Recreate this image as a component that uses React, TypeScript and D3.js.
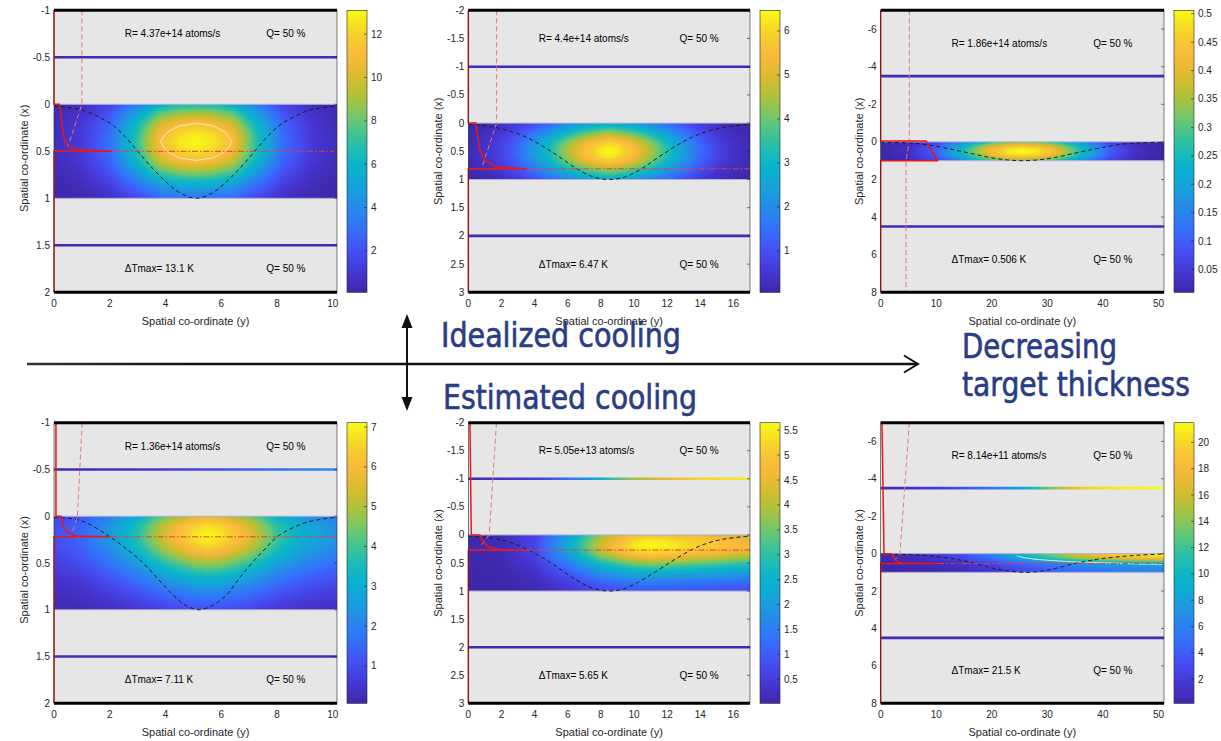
import React, { useMemo } from 'react';
import * as d3 from 'd3';

const W = 1221;
const H = 741;
const FONT = "'Liberation Sans', Arial, Helvetica, sans-serif";
const INK = '#262626';

// parula-style colour ramp (normalised position -> colour)
const parulaPos = [0, 0.077, 0.153, 0.229, 0.305, 0.38, 0.458, 0.534, 0.61, 0.687, 0.763, 0.84, 0.916, 1];
const parulaCol = [
  'rgb(62,38,168)', 'rgb(70,56,215)', 'rgb(68,82,245)', 'rgb(50,115,252)', 'rgb(38,140,232)',
  'rgb(20,165,218)', 'rgb(10,182,200)', 'rgb(45,192,165)', 'rgb(105,200,115)', 'rgb(170,195,60)',
  'rgb(218,186,48)', 'rgb(252,185,60)', 'rgb(245,208,45)', 'rgb(249,251,20)',
];
const parula = d3.scaleLinear<string>().domain(parulaPos).range(parulaCol).interpolate(d3.interpolateRgb).clamp(true);

// page grid of the six panels
const colLeft = [54, 468.3, 880.7];
const colRight = [337, 750, 1164];
const rowTop = [10.3, 422.7];
const rowBottom = [292.3, 703.3];

// shared tick lists
const thickDepthTicks = [-1, -0.5, 0, 0.5, 1, 1.5, 2];
const midDepthTicks = [-2, -1.5, -1, -0.5, 0, 0.5, 1, 1.5, 2, 2.5, 3];
const thinDepthTicks = [-6, -4, -2, 0, 2, 4, 6, 8];
const thickLatTicks = [0, 2, 4, 6, 8, 10];
const midLatTicks = [0, 2, 4, 6, 8, 10, 12, 14, 16];
const thinLatTicks = [0, 10, 20, 30, 40, 50];
const depthSteps = [0, 0.1, 0.2, 0.3, 0.4, 0.5, 0.6, 0.7, 0.8, 0.9, 1];

// ---- (a) idealized cooling, thick target ----
const aHeatLat = [0, 1, 2, 3, 3.8, 4.5, 5.1, 5.7, 6.4, 7.2, 8.2, 9.2, 10.15];
const aHeatLatVals = [0.04, 0.09, 0.23, 0.55, 0.86, 0.97, 1, 0.97, 0.86, 0.55, 0.23, 0.09, 0.04];
const aHeatDepthVals = [0.5, 0.7, 0.86, 0.96, 1, 0.96, 0.86, 0.7, 0.52, 0.36, 0.24];
const aBragg = [[-1, 0], [0, 0], [0, 0.2], [0.07, 0.24], [0.22, 0.29], [0.36, 0.36], [0.45, 0.51], [0.48, 0.81], [0.49, 1.29], [0.5, 2.07], [0.5, 0], [2, 0]];
const aRange = [[-1, 1], [0, 1], [0.45, 0.5]];
const aBeam = [[0, 0.02], [1, 0.06], [2, 0.2], [2.5, 0.33], [3, 0.5], [3.5, 0.67], [4, 0.82], [4.5, 0.94], [5.1, 1], [5.7, 0.94], [6.2, 0.82], [6.7, 0.67], [7.2, 0.5], [7.7, 0.33], [8.2, 0.2], [9.2, 0.06], [10.15, 0.02]];
const aCbTicks = [2, 4, 6, 8, 10, 12];

// ---- (b) idealized cooling, medium target ----
const bHeatLat = [0, 1, 2, 3, 4, 5, 6, 7, 8, 8.5, 9, 10, 11, 12, 13, 14, 15, 16, 17];
const bHeatLatVals = [0.03, 0.06, 0.12, 0.22, 0.36, 0.52, 0.7, 0.86, 0.97, 1, 0.97, 0.86, 0.7, 0.52, 0.36, 0.22, 0.12, 0.06, 0.03];
const bHeatDepthVals = [0.42, 0.56, 0.72, 0.87, 0.97, 1, 0.97, 0.87, 0.72, 0.56, 0.42];
const bBragg = [[-2, 0], [0, 0], [0, 0.46], [0.18, 0.54], [0.48, 0.7], [0.66, 1.0], [0.78, 1.7], [0.81, 3.5], [0.81, 0], [3, 0]];
const bRange = [[-2, 1.71], [0, 1.71], [0.76, 0.85]];
const bBeam = [[0, 0.02], [1.5, 0.07], [2.5, 0.14], [3.5, 0.25], [4.5, 0.41], [5.5, 0.6], [6.5, 0.8], [7.5, 0.95], [8.5, 1], [9.5, 0.95], [10.5, 0.8], [11.5, 0.6], [12.5, 0.41], [13.5, 0.25], [14.5, 0.14], [15.5, 0.07], [17, 0.02]];
const bCbTicks = [1, 2, 3, 4, 5, 6];

// ---- (c) idealized cooling, thin target ----
const cHeatLat = [0, 5, 10, 14, 17, 20, 23, 25.5, 28, 31, 34, 37, 41, 46, 51];
const cHeatLatVals = [0.02, 0.06, 0.2, 0.45, 0.65, 0.85, 0.97, 1, 0.97, 0.85, 0.65, 0.45, 0.2, 0.06, 0.02];
const cHeatDepthVals = [0.62, 0.75, 0.86, 0.94, 0.99, 1, 0.99, 0.94, 0.86, 0.75, 0.62];
const cBragg = [[-7, 0], [-0.05, 0], [-0.05, 8.15], [1, 10.26], [1, 0], [8, 0]];
const cRange = [[-7, 5.15], [0, 5.15], [1, 4.55], [8, 4.55]];
const cBeam = [[0, 0.02], [4.5, 0.05], [7.5, 0.12], [10.5, 0.26], [13.5, 0.44], [16.5, 0.63], [19.5, 0.82], [22.5, 0.95], [25.5, 1], [28.5, 0.95], [31.5, 0.82], [34.5, 0.63], [37.5, 0.44], [40.5, 0.26], [43.5, 0.12], [46.5, 0.05], [51, 0.02]];
const cCbTicks = [0.05, 0.1, 0.15, 0.2, 0.25, 0.3, 0.35, 0.4, 0.45, 0.5];

// ---- (d) estimated cooling, thick target ----
const dHeatLat = [0, 1, 2, 3, 4, 5, 5.5, 6, 7, 8, 9, 10.15];
const dHeatLatVals = [0.15, 0.21, 0.35, 0.53, 0.78, 0.96, 1, 0.97, 0.8, 0.56, 0.42, 0.33];
const dHeatDepthVals = [0.8, 0.95, 1, 0.95, 0.83, 0.68, 0.54, 0.42, 0.31, 0.22, 0.15];
const dTopLat = [0, 2, 4, 6, 8, 10.15];
const dTopVals = [0.15, 0.3, 0.6, 1.0, 1.6, 2.3];
const dBragg = [[-1, 0.07], [0, 0.07], [0, 0.27], [0.09, 0.3], [0.165, 0.43], [0.21, 0.8], [0.22, 2.0], [0.22, 0], [2, 0]];
const dRange = [[-1, 1.01], [0, 0.84], [0.18, 0.65]];
const dBeam = [[0, 0.01], [1, 0.05], [2, 0.22], [2.6, 0.35], [3.2, 0.5], [3.7, 0.66], [4.2, 0.82], [4.7, 0.95], [5.2, 1], [5.7, 0.95], [6.2, 0.84], [6.6, 0.68], [7.1, 0.5], [7.6, 0.34], [8, 0.22], [9, 0.07], [10.15, 0.01]];
const dCbTicks = [1, 2, 3, 4, 5, 6, 7];

// ---- (e) estimated cooling, medium target ----
const eHeatLat = [0, 2, 4, 6, 8, 10, 11, 12, 14, 16, 17];
const eHeatLatVals = [0.01, 0.03, 0.12, 0.4, 0.75, 0.97, 1, 0.98, 0.92, 0.85, 0.82];
const eHeatDepthVals = [0.88, 0.97, 1, 0.95, 0.82, 0.66, 0.52, 0.4, 0.3, 0.22, 0.17];
const eTopLat = [0, 4, 6, 8, 10, 12, 14, 17];
const eTopVals = [0.1, 0.5, 1.2, 2.5, 3.8, 4.6, 5.2, 5.5];
const eBragg = [[-2, 0.1], [0, 0.18], [0, 0.7], [0.12, 0.9], [0.21, 1.2], [0.26, 1.9], [0.27, 3.5], [0.27, 0], [3, 0]];
const eRange = [[-2, 1.7], [0, 1.26], [0.21, 0.7]];
const eBeam = [[0, 0.02], [1.5, 0.06], [2.5, 0.13], [3.5, 0.25], [4.5, 0.41], [5.5, 0.6], [6.5, 0.8], [7.5, 0.95], [8.5, 1], [9.5, 0.95], [10.5, 0.8], [11.5, 0.62], [12.5, 0.43], [13.5, 0.26], [14.5, 0.14], [15.5, 0.07], [17, 0.02]];
const eCbTicks = [0.5, 1, 1.5, 2, 2.5, 3, 3.5, 4, 4.5, 5, 5.5];

// ---- (f) estimated cooling, thin target ----
const fHeatLat = [0, 5, 10, 15, 20, 24, 30, 35, 40, 45, 51];
const fHeatLatVals = [0.02, 0.04, 0.08, 0.15, 0.28, 0.42, 0.6, 0.75, 0.86, 0.95, 1.0];
const fHeatDepthVals = [1, 0.97, 0.9, 0.78, 0.62, 0.47, 0.4, 0.35, 0.31, 0.29, 0.27];
const fTopLat = [0, 10, 20, 25, 28, 31, 34, 38, 45, 51];
const fTopVals = [0.5, 2, 5, 8, 11, 14, 17, 20, 21, 21.5];
const fBragg = [[-7, 0.23], [0, 0.6], [0, 1.98], [0.34, 2.58], [0.52, 3.78], [0.53, 10.1], [0.53, 0], [8, 0]];
const fRange = [[-7, 5.15], [0, 3.47], [0.34, 2.58]];
const fBeam = [[0, 0.02], [5, 0.05], [10.1, 0.16], [15, 0.38], [19.1, 0.7], [22, 0.88], [26.3, 1], [30, 0.88], [34.7, 0.55], [39, 0.3], [43.1, 0.16], [47, 0.07], [51, 0.02]];
const fCbTicks = [2, 4, 6, 8, 10, 12, 14, 16, 18, 20];

const panels = [
  { key: 'a', row: 0, col: 0, latDomain: [0, 10.15], latTicks: thickLatTicks, depthDomain: [-1, 2], depthTicks: thickDepthTicks,
    rate: 'R= 4.37e+14 atoms/s', tMax: 13.1, cbMin: 0.09, cbTicks: aCbTicks, coolTop: -0.5, coolBottom: 1.5, textDepth: [-0.75, 1.75],
    heatLat: aHeatLat, heatLatVals: aHeatLatVals, heatDepthVals: aHeatDepthVals, bragg: aBragg, range: aRange, peak: 0.5, beam: aBeam,
    contour: 11.3, topLat: null, topVals: null },
  { key: 'b', row: 0, col: 1, latDomain: [0, 17], latTicks: midLatTicks, depthDomain: [-2, 3], depthTicks: midDepthTicks,
    rate: 'R= 4.4e+14 atoms/s', tMax: 6.47, cbMin: 0.06, cbTicks: bCbTicks, coolTop: -1, coolBottom: 2, textDepth: [-1.5, 2.5],
    heatLat: bHeatLat, heatLatVals: bHeatLatVals, heatDepthVals: bHeatDepthVals, bragg: bBragg, range: bRange, peak: 0.81, beam: bBeam,
    contour: null, topLat: null, topVals: null },
  { key: 'c', row: 0, col: 2, latDomain: [0, 51], latTicks: thinLatTicks, depthDomain: [-7, 8], depthTicks: thinDepthTicks,
    rate: 'R= 1.86e+14 atoms/s', tMax: 0.506, cbMin: 0.01, cbTicks: cCbTicks, coolTop: -3.5, coolBottom: 4.5, textDepth: [-5.25, 6.25],
    heatLat: cHeatLat, heatLatVals: cHeatLatVals, heatDepthVals: cHeatDepthVals, bragg: cBragg, range: cRange, peak: null, beam: cBeam,
    contour: null, topLat: null, topVals: null },
  { key: 'd', row: 1, col: 0, latDomain: [0, 10.15], latTicks: thickLatTicks, depthDomain: [-1, 2], depthTicks: thickDepthTicks,
    rate: 'R= 1.36e+14 atoms/s', tMax: 7.11, cbMin: 0.06, cbTicks: dCbTicks, coolTop: -0.5, coolBottom: 1.5, textDepth: [-0.75, 1.75],
    heatLat: dHeatLat, heatLatVals: dHeatLatVals, heatDepthVals: dHeatDepthVals, bragg: dBragg, range: dRange, peak: 0.22, beam: dBeam,
    contour: null, topLat: dTopLat, topVals: dTopVals },
  { key: 'e', row: 1, col: 1, latDomain: [0, 17], latTicks: midLatTicks, depthDomain: [-2, 3], depthTicks: midDepthTicks,
    rate: 'R= 5.05e+13 atoms/s', tMax: 5.65, cbMin: 0.02, cbTicks: eCbTicks, coolTop: -1, coolBottom: 2, textDepth: [-1.5, 2.5],
    heatLat: eHeatLat, heatLatVals: eHeatLatVals, heatDepthVals: eHeatDepthVals, bragg: eBragg, range: eRange, peak: 0.27, beam: eBeam,
    contour: null, topLat: eTopLat, topVals: eTopVals },
  { key: 'f', row: 1, col: 2, latDomain: [0, 51], latTicks: thinLatTicks, depthDomain: [-7, 8], depthTicks: thinDepthTicks,
    rate: 'R= 8.14e+11 atoms/s', tMax: 21.5, cbMin: 0.16, cbTicks: fCbTicks, coolTop: -3.5, coolBottom: 4.5, textDepth: [-5.25, 6.25],
    heatLat: fHeatLat, heatLatVals: fHeatLatVals, heatDepthVals: fHeatDepthVals, bragg: fBragg, range: fRange, peak: 0.53, beam: fBeam,
    contour: 9, topLat: fTopLat, topVals: fTopVals },
];

function Panel({ p }: { p: any }) {
  const left = colLeft[p.col];
  const right = colRight[p.col];
  const top = rowTop[p.row];
  const bottom = rowBottom[p.row];
  const sx = d3.scaleLinear().domain(p.latDomain).range([left, right]);
  const sy = d3.scaleLinear().domain(p.depthDomain).range([top, bottom]);
  const norm = (v: number) => (v - p.cbMin) / (p.tMax - p.cbMin);
  const fLat = d3.scaleLinear().domain(p.heatLat).range(p.heatLatVals).clamp(true);
  const fDep = d3.scaleLinear().domain(depthSteps).range(p.heatDepthVals).clamp(true);
  const field = (h: number, d: number) => p.tMax * fLat(h) * fDep(d);

  const hx0 = left;
  const hx1 = right;
  const hy0 = sy(0);
  const hy1 = sy(1);

  const heatHref = useMemo(() => {
    const cw = Math.max(1, Math.round(hx1 - hx0));
    const ch = Math.max(1, Math.round(hy1 - hy0));
    const canvas = document.createElement('canvas');
    canvas.width = cw;
    canvas.height = ch;
    const ctx = canvas.getContext('2d');
    if (!ctx) return '';
    const img = ctx.createImageData(cw, ch);
    for (let j = 0; j < ch; j++) {
      const d = sy.invert(hy0 + ((j + 0.5) * (hy1 - hy0)) / ch);
      for (let i = 0; i < cw; i++) {
        const h = sx.invert(hx0 + ((i + 0.5) * (hx1 - hx0)) / cw);
        const c = d3.rgb(parula(norm(field(h, d))));
        const k = (j * cw + i) * 4;
        img.data[k] = c.r;
        img.data[k + 1] = c.g;
        img.data[k + 2] = c.b;
        img.data[k + 3] = 255;
      }
    }
    ctx.putImageData(img, 0, 0);
    return canvas.toDataURL();
  }, [p.key]);

  const contourPath = useMemo(() => {
    if (p.contour == null) return null;
    const nx = 240;
    const ny = 60;
    const vals = new Array(nx * ny);
    const [l0, l1] = p.latDomain;
    for (let j = 0; j < ny; j++) {
      for (let i = 0; i < nx; i++) {
        vals[j * nx + i] = field(l0 + ((i + 0.5) / nx) * (l1 - l0), (j + 0.5) / ny);
      }
    }
    const cs = d3.contours().size([nx, ny]).thresholds([p.contour])(vals);
    const proj = d3.geoTransform({
      point: function (x: number, y: number) {
        (this as any).stream.point(hx0 + (x / nx) * (hx1 - hx0), hy0 + (y / ny) * (hy1 - hy0));
      },
    });
    return d3.geoPath(proj)(cs[0] as any);
  }, [p.key]);

  const clipId = `clip-${p.key}`;
  const innerClipId = `inner-${p.key}`;
  const gradId = `cool-${p.key}`;

  const depthLine = d3.line<number[]>().x((q) => sx(q[1])).y((q) => sy(q[0]));
  const beamLine = d3.line<number[]>().x((q) => sx(q[0])).y((q) => sy(q[1])).curve(d3.curveCatmullRom);

  const cbLeft = right + 10;
  const cbRight = cbLeft + 20;
  const cbScale = d3.scaleLinear().domain([p.cbMin, p.tMax]).range([bottom, top]);
  const lowColor = parula(0.02);
  const latSpan = p.latDomain[1] - p.latDomain[0];
  const ylabX = p.col === 2 ? left - 22 : left - 30;
  const ylabY = (top + bottom) / 2 + (p.col === 0 ? 7 : 0);

  return (
    <g>
      <defs>
        <clipPath id={clipId}>
          <rect x={left - 2} y={top} width={right - left + 2} height={bottom - top} />
        </clipPath>
        <clipPath id={innerClipId}>
          <rect x={hx0 + 2} y={hy0 + 2} width={hx1 - hx0 - 4} height={hy1 - hy0 - 4} />
        </clipPath>
        {p.topLat && (
          <linearGradient id={gradId} gradientUnits="userSpaceOnUse" x1={left} y1={0} x2={right} y2={0}>
            {p.topLat.map((h: number, i: number) => (
              <stop key={i} offset={(sx(h) - left) / (right - left)} stopColor={parula(norm(p.topVals[i]))} />
            ))}
          </linearGradient>
        )}
      </defs>

      <rect x={left} y={top} width={right - left} height={bottom - top} fill="#e6e6e6" />

      <g clipPath={`url(#${clipId})`}>
        <image href={heatHref} x={hx0} y={hy0} width={hx1 - hx0} height={hy1 - hy0} preserveAspectRatio="none" />
        <line x1={left} x2={right} y1={hy0} y2={hy0} stroke="#aeb0d4" strokeWidth={1} />
        <line x1={left} x2={right} y1={hy1} y2={hy1} stroke="#aeb0d4" strokeWidth={1} />
        {contourPath && (
          <path d={contourPath} fill="none" stroke="#f2f0dc" strokeWidth={1} clipPath={`url(#${innerClipId})`} />
        )}
        <line x1={left} x2={right} y1={sy(p.coolTop)} y2={sy(p.coolTop)}
          stroke={p.topLat ? `url(#${gradId})` : lowColor} strokeWidth={2.6} />
        <line x1={left} x2={right} y1={sy(p.coolBottom)} y2={sy(p.coolBottom)} stroke={lowColor} strokeWidth={2.6} />
        <path d={beamLine(p.beam) || ''} fill="none" stroke="#1e1e1e" strokeWidth={1} strokeDasharray="4,3" />
        {p.peak != null && (
          <line x1={left} x2={right} y1={sy(p.peak)} y2={sy(p.peak)} stroke="#e04040" strokeWidth={1}
            strokeDasharray="6,2,1.5,2" />
        )}
        <path d={depthLine(p.range) || ''} fill="none" stroke="#f07070" strokeWidth={1} strokeDasharray="5,3" />
        <path d={depthLine(p.bragg) || ''} fill="none" stroke="#e81818" strokeWidth={1.5} strokeLinejoin="round" />
      </g>

      {/* frame */}
      <rect x={left} y={top} width={right - left} height={bottom - top} fill="none" stroke={INK} strokeWidth={0.6} />
      {p.depthTicks.map((t: number) => (
        <g key={`yt${t}`}>
          <line x1={right} x2={right - 3} y1={sy(t)} y2={sy(t)} stroke={INK} strokeWidth={0.6} />
          <text x={left - 4} y={sy(t)} textAnchor="end" dominantBaseline="central" fontSize={10} fill={INK} fontFamily={FONT}>
            {String(t)}
          </text>
        </g>
      ))}
      {p.latTicks.map((t: number) => (
        <text key={`xt${t}`} x={sx(t)} y={bottom + 14.5} textAnchor="middle" fontSize={10} fill={INK} fontFamily={FONT}>
          {String(t)}
        </text>
      ))}
      <line x1={left} x2={right} y1={top} y2={top} stroke="#000" strokeWidth={3} />
      <line x1={left} x2={right} y1={bottom} y2={bottom} stroke="#000" strokeWidth={3} />

      <text x={(left + right) / 2} y={bottom + 32.5} textAnchor="middle" fontSize={11} fill={INK} fontFamily={FONT}>
        Spatial co-ordinate (y)
      </text>
      <text transform={`translate(${ylabX},${ylabY}) rotate(-90)`} textAnchor="middle" dominantBaseline="central"
        fontSize={11} fill={INK} fontFamily={FONT}>
        Spatial co-ordinate (x)
      </text>

      {/* annotations */}
      <text x={sx(p.latDomain[0] + 0.25 * latSpan)} y={sy(p.textDepth[0])} dominantBaseline="central" fontSize={10} fill="#000" fontFamily={FONT}>
        {p.rate}
      </text>
      <text x={sx(p.latDomain[0] + 0.75 * latSpan)} y={sy(p.textDepth[0])} dominantBaseline="central" fontSize={10} fill="#000" fontFamily={FONT}>
        Q= 50 %
      </text>
      <text x={sx(p.latDomain[0] + 0.25 * latSpan)} y={sy(p.textDepth[1])} dominantBaseline="central" fontSize={10} fill="#000" fontFamily={FONT}>
        {`ΔTmax= ${p.tMax} K`}
      </text>
      <text x={sx(p.latDomain[0] + 0.75 * latSpan)} y={sy(p.textDepth[1])} dominantBaseline="central" fontSize={10} fill="#000" fontFamily={FONT}>
        Q= 50 %
      </text>

      {/* colour bar */}
      <rect x={cbLeft} y={top} width={cbRight - cbLeft} height={bottom - top} fill="url(#parulaBar)" stroke={INK} strokeWidth={0.6} />
      {p.cbTicks.map((t: number) => (
        <g key={`cb${t}`}>
          <line x1={cbRight} x2={cbRight - 3} y1={cbScale(t)} y2={cbScale(t)} stroke={INK} strokeWidth={0.6} />
          <text x={cbRight + 4} y={cbScale(t)} dominantBaseline="central" fontSize={10} fill={INK} fontFamily={FONT}>
            {String(t)}
          </text>
        </g>
      ))}
    </g>
  );
}

const barStops = d3.range(0, 1.0001, 0.05);
const NAVY = '#2a3c85';
const SLIDE_FONT = "'DejaVu Sans Condensed', 'Open Sans', 'Noto Sans', sans-serif";

export default function App() {
  return (
    <svg width={W} height={H} viewBox={`0 0 ${W} ${H}`}
      style={{ position: 'absolute', left: 0, top: 0, background: '#fff', display: 'block' }}>
      <defs>
        <linearGradient id="parulaBar" x1="0" y1="1" x2="0" y2="0">
          {barStops.map((t, i) => (
            <stop key={i} offset={t} stopColor={parula(t)} />
          ))}
        </linearGradient>
        <linearGradient id="axisFade" gradientUnits="userSpaceOnUse" x1={27} y1={0} x2={200} y2={0}>
          <stop offset={0} stopColor="#333" />
          <stop offset={1} stopColor="#111" />
        </linearGradient>
      </defs>
      <rect x={0} y={0} width={W} height={H} fill="#fff" />
      {panels.map((p) => (
        <Panel key={p.key} p={p} />
      ))}

      {/* direction arrows */}
      <line x1={27} x2={917} y1={364} y2={364} stroke="url(#axisFade)" strokeWidth={2.4} />
      <polyline points="904,355.5 918,364 904,372.5" fill="none" stroke="#111" strokeWidth={2} />
      <line x1={407} x2={407} y1={326} y2={400} stroke="#111" strokeWidth={2} />
      <polygon points="407,314 401.5,328 412.5,328" fill="#111" />
      <polygon points="407,411 401.5,397 412.5,397" fill="#111" />

      <g fill={NAVY} stroke={NAVY} strokeWidth={0.6} fontFamily={SLIDE_FONT} fontSize={33}>
        <text x={441} y={347} textLength={240} lengthAdjust="spacingAndGlyphs">
          Idealized cooling
        </text>
        <text x={443} y={409} textLength={254} lengthAdjust="spacingAndGlyphs">
          Estimated cooling
        </text>
        <text x={962} y={358} textLength={155} lengthAdjust="spacingAndGlyphs">
          Decreasing
        </text>
        <text x={962} y={396} textLength={228} lengthAdjust="spacingAndGlyphs">
          target thickness
        </text>
      </g>
    </svg>
  );
}
